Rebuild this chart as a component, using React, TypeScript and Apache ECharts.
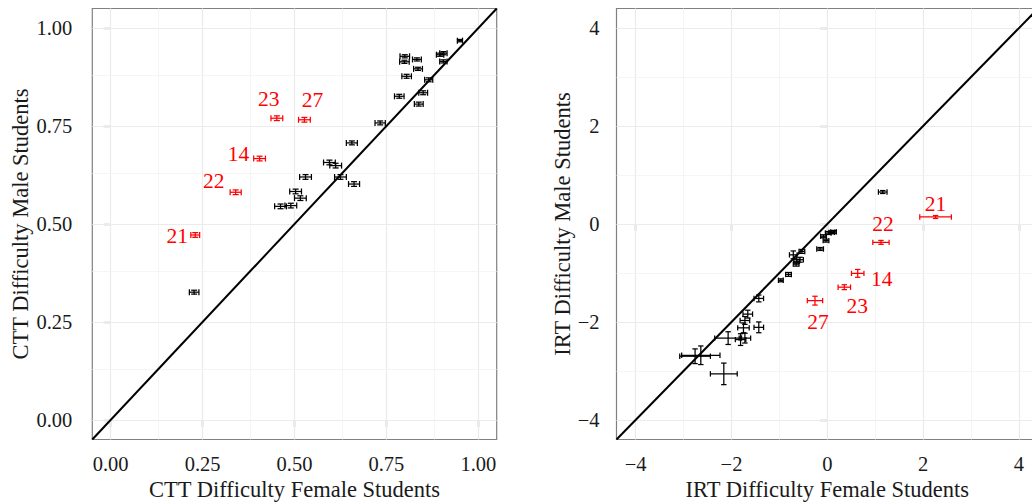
import React, { useEffect, useRef } from "react";
import * as echarts from "echarts";

// ---- axis ticks ----
const cttTicks = [0, 0.25, 0.5, 0.75, 1];
const cttMinor = [0.125, 0.375, 0.625, 0.875];
const cttRange = [-0.05, 1.05];
const irtTicks = [-4, -2, 0, 2, 4];
const irtMinor = [-3, -1, 1, 3];
const irtRange = [-4.4, 4.4];

// ---- CTT difficulty (proportion correct), regular items ----
const cttFemale = [0.95, 0.905, 0.896, 0.905, 0.8, 0.799, 0.833, 0.836, 0.805, 0.865, 0.785, 0.85, 0.838, 0.733, 0.656, 0.595, 0.612, 0.625, 0.662, 0.53, 0.503, 0.516, 0.462, 0.49, 0.227];
const cttMale = [0.968, 0.936, 0.932, 0.915, 0.928, 0.914, 0.92, 0.896, 0.877, 0.868, 0.826, 0.835, 0.806, 0.758, 0.707, 0.657, 0.649, 0.62, 0.602, 0.62, 0.583, 0.566, 0.545, 0.547, 0.326];
const cttFemaleSE = [0.007, 0.01, 0.01, 0.01, 0.013, 0.013, 0.012, 0.012, 0.013, 0.011, 0.013, 0.012, 0.012, 0.014, 0.015, 0.016, 0.016, 0.016, 0.015, 0.016, 0.016, 0.016, 0.016, 0.016, 0.013];
const cttMaleSE = [0.003, 0.004, 0.004, 0.004, 0.004, 0.004, 0.004, 0.004, 0.005, 0.005, 0.005, 0.005, 0.005, 0.005, 0.005, 0.006, 0.006, 0.006, 0.006, 0.006, 0.006, 0.006, 0.006, 0.006, 0.005];

// ---- CTT, flagged items ----
const difItems = ["21", "22", "14", "23", "27"];
const cttDifFemale = [0.23, 0.34, 0.405, 0.452, 0.527];
const cttDifMale = [0.472, 0.581, 0.667, 0.77, 0.766];
const cttDifFemaleSE = [0.012, 0.015, 0.016, 0.016, 0.016];
const cttDifMaleSE = [0.006, 0.006, 0.006, 0.006, 0.006];

// ---- IRT difficulty, regular items ----
const irtFemale = [1.157, 0.13, 0.092, 0.02, -0.08, -0.027, -0.15, -0.53, -0.71, -0.57, -0.64, -0.65, -0.81, -0.97, -1.43, -1.66, -1.72, -1.43, -1.75, -1.72, -1.81, -2.07, -2.76, -2.64, -2.16];
const irtMale = [0.653, -0.16, -0.171, -0.184, -0.25, -0.34, -0.51, -0.56, -0.63, -0.73, -0.76, -0.82, -1.03, -1.15, -1.52, -1.84, -1.97, -2.11, -2.12, -2.33, -2.36, -2.33, -2.7, -2.68, -3.06];
const irtFemaleSE = [0.09, 0.06, 0.06, 0.06, 0.06, 0.06, 0.07, 0.06, 0.08, 0.07, 0.06, 0.06, 0.06, 0.05, 0.1, 0.1, 0.1, 0.1, 0.12, 0.12, 0.11, 0.28, 0.32, 0.4, 0.28];
const irtMaleSE = [0.03, 0.03, 0.03, 0.03, 0.03, 0.03, 0.03, 0.04, 0.08, 0.05, 0.04, 0.04, 0.04, 0.03, 0.07, 0.08, 0.08, 0.11, 0.1, 0.1, 0.12, 0.13, 0.15, 0.19, 0.22];

// ---- IRT, flagged items ----
const irtDifFemale = [2.26, 1.12, 0.635, 0.355, -0.257];
const irtDifMale = [0.143, -0.375, -1.008, -1.29, -1.565];
const irtDifFemaleSE = [0.33, 0.17, 0.13, 0.13, 0.16];
const irtDifMaleSE = [0.03, 0.04, 0.08, 0.05, 0.09];

// label offsets (pixels) for flagged item numbers
const cttLabelOffsets = [[-18, 1], [-22, -11], [-21, -5], [-8, -19], [8, -20]];
const irtLabelOffsets = [[0, -13], [2, -18], [24, 6], [13, 19], [3, 21]];

const FONT = "Liberation Serif";
const TEXT = "#1a1a1a";
const RED = "#ff0000";

const zip = (a: number[], b: number[], c: number[], d: number[]) => a.map((v, i) => [v, b[i], c[i], d[i]]);

function makeRenderer(color: string, cap: number, labels?: string[], offsets?: number[][]) {
  return (params: any, api: any) => {
    const x = api.value(0);
    const y = api.value(1);
    const ex = api.value(2);
    const ey = api.value(3);
    const c = api.coord([x, y]);
    const l = api.coord([x - ex, y]);
    const r = api.coord([x + ex, y]);
    const t = api.coord([x, y + ey]);
    const b = api.coord([x, y - ey]);
    const st = { stroke: color, lineWidth: 1.25 };
    const children: any[] = [
      { type: "line", shape: { x1: l[0], y1: c[1], x2: r[0], y2: c[1] }, style: st },
      { type: "line", shape: { x1: l[0], y1: c[1] - cap, x2: l[0], y2: c[1] + cap }, style: st },
      { type: "line", shape: { x1: r[0], y1: c[1] - cap, x2: r[0], y2: c[1] + cap }, style: st },
      { type: "line", shape: { x1: c[0], y1: t[1], x2: c[0], y2: b[1] }, style: st },
      { type: "line", shape: { x1: c[0] - cap, y1: t[1], x2: c[0] + cap, y2: t[1] }, style: st },
      { type: "line", shape: { x1: c[0] - cap, y1: b[1], x2: c[0] + cap, y2: b[1] }, style: st },
    ];
    if (labels && offsets) {
      const off = offsets[params.dataIndex];
      children.push({
        type: "text",
        x: c[0] + off[0],
        y: c[1] + off[1],
        style: {
          text: labels[params.dataIndex],
          fill: color,
          fontSize: 21.5,
          fontFamily: FONT,
          align: "center",
          verticalAlign: "middle",
        },
      });
    }
    return { type: "group", children };
  };
}

function gridLines(major: number[], minor: number[]) {
  const items: any[] = [];
  major.forEach((v) => {
    items.push({ xAxis: v, lineStyle: { color: "#ebebeb", width: 1.2, type: "solid" } });
    items.push({ yAxis: v, lineStyle: { color: "#ebebeb", width: 1.2, type: "solid" } });
  });
  minor.forEach((v) => {
    items.push({ xAxis: v, lineStyle: { color: "#f3f3f3", width: 0.8, type: "solid" } });
    items.push({ yAxis: v, lineStyle: { color: "#f3f3f3", width: 0.8, type: "solid" } });
  });
  return {
    silent: true,
    symbol: ["none", "none"],
    label: { show: false },
    emphasis: { disabled: true },
    animation: false,
    z: 1,
    data: items,
  };
}

const fmt = (decimals: number) => (v: number) => {
  const s = decimals > 0 ? v.toFixed(decimals) : String(Math.round(v));
  return s.replace("-", "\u2212");
};

function axisCommon(ticks: number[], range: number[], decimals: number, name: string, gridIndex: number, labelMargin: number, nameGap: number) {
  return {
    type: "value",
    gridIndex,
    min: range[0],
    max: range[1],
    name,
    nameLocation: "middle",
    nameGap,
    nameMoveOverlap: false,
    nameTextStyle: { fontFamily: FONT, fontSize: 22.5, color: TEXT },
    axisLine: { show: false },
    splitLine: { show: false },
    minorSplitLine: { show: false },
    axisTick: { show: true, customValues: ticks, length: 7, inside: false, lineStyle: { color: "#333333", width: 1.2 } },
    axisLabel: {
      show: true,
      customValues: ticks,
      formatter: fmt(decimals),
      fontFamily: FONT,
      fontSize: 20.5,
      color: TEXT,
      margin: labelMargin,
      hideOverlap: false,
    },
  };
}

export default function App() {
  const ref = useRef<HTMLDivElement>(null);
  useEffect(() => {
    document.body.style.margin = "0";
    if (!ref.current) return;
    const chart = echarts.init(ref.current, undefined, { renderer: "svg" });
    const grids = [
      { left: 92.3, top: 8.5, width: 404.4, height: 431 },
      { left: 616.5, top: 8.5, width: 421.6, height: 431 },
    ].map((g) => ({
      ...g,
      show: true,
      backgroundColor: "#ffffff",
      borderColor: "#808080",
      borderWidth: 1.2,
      containLabel: false,
      outerBoundsMode: "none",
    }));
    const option: any = {
      animation: false,
      backgroundColor: "#ffffff",
      grid: grids,
      xAxis: [
        axisCommon(cttTicks, cttRange, 2, "CTT Difficulty Female Students", 0, 14, 38),
        axisCommon(irtTicks, irtRange, 0, "IRT Difficulty Female Students", 1, 14, 38),
      ],
      yAxis: [
        axisCommon(cttTicks, cttRange, 2, "CTT Difficulty Male Students", 0, 20, 60),
        axisCommon(irtTicks, irtRange, 0, "IRT Difficulty Male Students", 1, 17, 43),
      ],
      series: [
        {
          type: "line",
          xAxisIndex: 0,
          yAxisIndex: 0,
          data: [[cttRange[0], cttRange[0]], [cttRange[1], cttRange[1]]],
          showSymbol: false,
          symbol: "none",
          silent: true,
          z: 2,
          lineStyle: { color: "#000000", width: 2 },
          markLine: gridLines(cttTicks, cttMinor),
        },
        {
          type: "line",
          xAxisIndex: 1,
          yAxisIndex: 1,
          data: [[irtRange[0], irtRange[0]], [irtRange[1], irtRange[1]]],
          showSymbol: false,
          symbol: "none",
          silent: true,
          z: 2,
          lineStyle: { color: "#000000", width: 2 },
          markLine: gridLines(irtTicks, irtMinor),
        },
        {
          type: "custom",
          xAxisIndex: 0,
          yAxisIndex: 0,
          z: 3,
          silent: true,
          renderItem: makeRenderer("#000000", 3),
          data: zip(cttFemale, cttMale, cttFemaleSE, cttMaleSE),
        },
        {
          type: "custom",
          xAxisIndex: 0,
          yAxisIndex: 0,
          z: 4,
          silent: true,
          renderItem: makeRenderer(RED, 3, difItems, cttLabelOffsets),
          data: zip(cttDifFemale, cttDifMale, cttDifFemaleSE, cttDifMaleSE),
        },
        {
          type: "custom",
          xAxisIndex: 1,
          yAxisIndex: 1,
          z: 3,
          silent: true,
          renderItem: makeRenderer("#000000", 2.7),
          data: zip(irtFemale, irtMale, irtFemaleSE, irtMaleSE),
        },
        {
          type: "custom",
          xAxisIndex: 1,
          yAxisIndex: 1,
          z: 4,
          silent: true,
          renderItem: makeRenderer(RED, 2.7, difItems, irtLabelOffsets),
          data: zip(irtDifFemale, irtDifMale, irtDifFemaleSE, irtDifMaleSE),
        },
      ],
    };
    chart.setOption(option);
    return () => chart.dispose();
  }, []);
  return <div ref={ref} style={{ width: 1032, height: 504 }} />;
}
